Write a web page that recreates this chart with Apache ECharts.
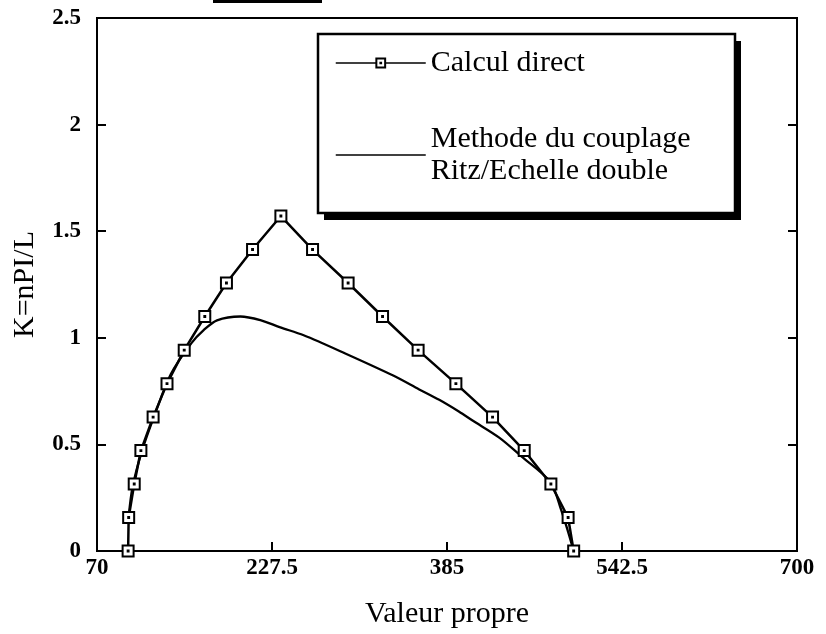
<!DOCTYPE html>
<html>
<head>
<meta charset="utf-8">
<script src="https://cdn.jsdelivr.net/npm/echarts@6/dist/echarts.min.js"></script>
<style>
  html, body { margin: 0; padding: 0; background: #fff; }
  #chart { width: 826px; height: 634px; }
</style>
</head>
<body>
<div id="chart"></div>
<script>
// Calcul direct: eigenvalue vs wave number K = n*PI/L
const xDirect = [98, 98.5, 103.5, 109.5, 120.5, 133, 148.5, 167, 186.5, 210, 235.5,
                 264, 296, 327, 359, 393, 426, 454.5, 478.5, 494, 499];
const kDirect = [0, 0.157, 0.314, 0.471, 0.628, 0.785, 0.942, 1.100, 1.257, 1.414, 1.571,
                 1.414, 1.257, 1.100, 0.942, 0.785, 0.628, 0.471, 0.314, 0.157, 0];

// Methode du couplage Ritz / Echelle double
const xCouplage = [98.5, 102, 110.5, 122, 136.5, 155, 166, 178, 199, 217, 235, 256, 292,
                   336.6, 360, 378, 396, 408, 432, 452, 478, 487.5, 494, 499];
const kCouplage = [0.16, 0.30, 0.47, 0.64, 0.83, 0.975, 1.036, 1.082, 1.10, 1.083, 1.049, 1.012, 0.93,
                   0.823, 0.758, 0.709, 0.653, 0.612, 0.532, 0.444, 0.324, 0.197, 0.09, 0];

// Axis ticks
const xTickLabels = [70, 227.5, 385, 542.5, 700];
const xTickMarks = [227.5, 385, 542.5];
const yTickLabels = [0, 0.5, 1, 1.5, 2, 2.5];

const nameDirect = 'Calcul direct';
const nameCouplage = 'Methode du couplage\nRitz/Echelle double';

const pair = (xs, ys) => xs.map((x, i) => [x, ys[i]]);

const serif = '"Liberation Serif", "DejaVu Serif", serif';
const chart = echarts.init(document.getElementById('chart'), null, { renderer: 'canvas' });

chart.setOption({
  animation: false,
  backgroundColor: '#fff',
  grid: {
    left: 97, right: 29, top: 18, bottom: 80,
    show: true, borderColor: '#000', borderWidth: 2
  },
  legend: {
    data: [nameDirect, { name: nameCouplage, itemStyle: { opacity: 0 } }],
    orient: 'vertical',
    left: 318, top: 34,
    padding: [13, 30, 22, 17],
    itemGap: 44,
    itemWidth: 90,
    itemHeight: 11,
    z: 10,
    lineStyle: { width: 1.5 },
    textStyle: { fontFamily: serif, fontSize: 30, color: '#000', lineHeight: 32 }
  },
  xAxis: {
    type: 'value',
    min: 70, max: 700,
    name: 'Valeur propre',
    nameLocation: 'middle',
    nameGap: 48,
    nameTextStyle: { fontFamily: serif, fontSize: 30, color: '#000' },
    axisLine: { show: true, lineStyle: { color: '#000', width: 2 } },
    axisTick: { show: true, inside: true, length: 9, customValues: xTickMarks,
                lineStyle: { color: '#000', width: 2 } },
    axisLabel: { customValues: xTickLabels, margin: 6, fontFamily: serif, fontSize: 23,
                 fontWeight: 'bold', color: '#000', formatter: v => String(v) },
    splitLine: { show: false }
  },
  yAxis: [{
    type: 'value',
    min: 0, max: 2.5, interval: 0.5,
    name: 'K=nPI/L',
    nameLocation: 'middle',
    nameRotate: 90,
    nameGap: 57,
    nameTextStyle: { fontFamily: serif, fontSize: 30, color: '#000' },
    axisLine: { show: true, lineStyle: { color: '#000', width: 2 } },
    axisTick: { show: true, inside: true, length: 9, lineStyle: { color: '#000', width: 2 } },
    axisLabel: { customValues: yTickLabels, margin: 16, fontFamily: serif, fontSize: 23,
                 fontWeight: 'bold', color: '#000', formatter: v => String(v) },
    splitLine: { show: false }
  }, {
    type: 'value',
    position: 'right',
    min: 0, max: 2.5, interval: 0.5,
    axisLine: { show: true, lineStyle: { color: '#000', width: 2 } },
    axisTick: { show: true, inside: true, length: 9, lineStyle: { color: '#000', width: 2 } },
    axisLabel: { show: false },
    splitLine: { show: false }
  }],
  series: [{
    name: nameCouplage,
    type: 'line',
    data: pair(xCouplage, kCouplage),
    smooth: 0.3,
    symbol: 'none',
    lineStyle: { color: '#000', width: 2.3 },
    itemStyle: { color: '#000' },
    z: 2
  }, {
    name: nameDirect,
    type: 'line',
    data: pair(xDirect, kDirect),
    symbol: 'path://M0,0H10V10H0Z M4.6,4.6H5.4V5.4H4.6Z',
    symbolSize: 11,
    lineStyle: { color: '#000', width: 2.5 },
    itemStyle: { color: '#fff', borderColor: '#000', borderWidth: 2 },
    z: 3
  }],
  graphic: [{
    type: 'rect',
    z: 5,
    shape: { x: 213, y: 0, width: 109, height: 3 },
    style: { fill: '#000' }
  }, {
    // legend panel drop shadow
    type: 'rect',
    z: 5,
    shape: { x: 324, y: 41, width: 417, height: 179 },
    style: { fill: '#000' }
  }, {
    // legend panel
    type: 'rect',
    z: 6,
    shape: { x: 318, y: 34, width: 417, height: 179 },
    style: { fill: '#fff', stroke: '#000', lineWidth: 2.5 }
  }]
});
</script>
</body>
</html>
